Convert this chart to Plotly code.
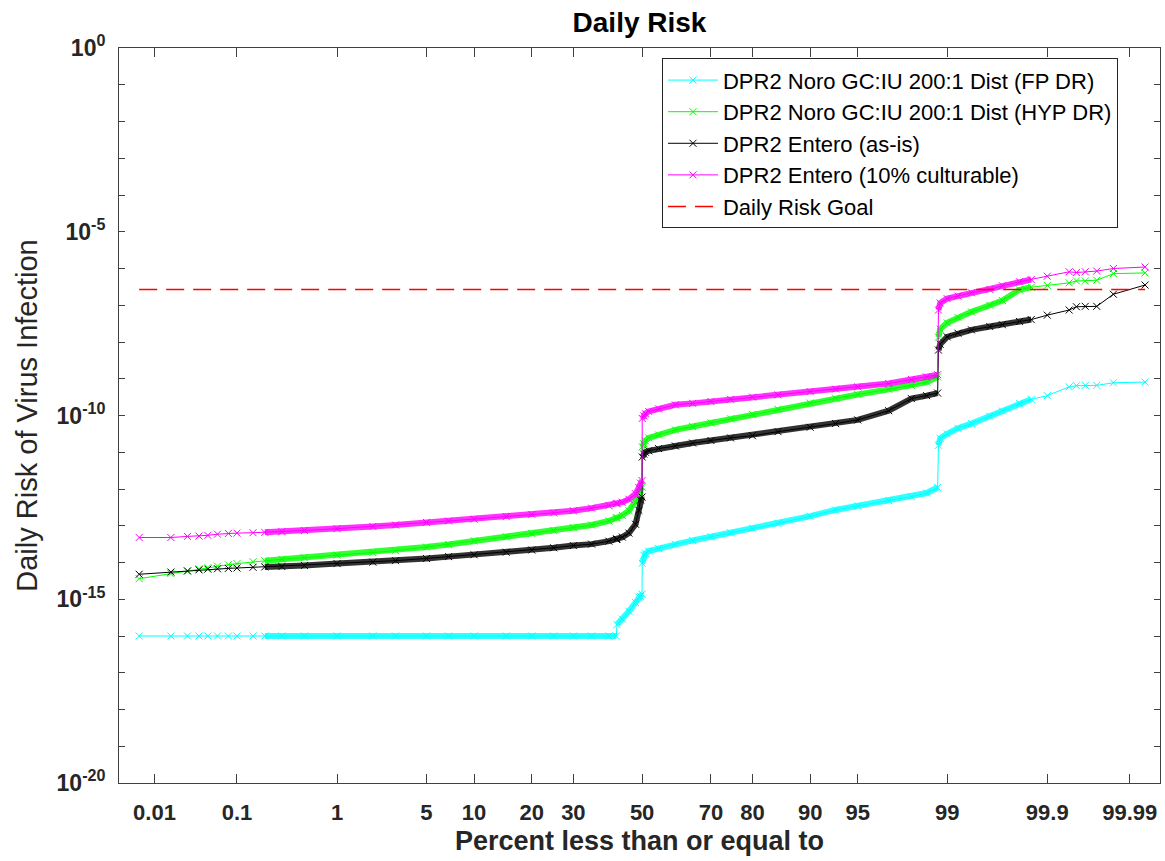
import plotly.graph_objects as go
from statistics import NormalDist

TITLE = "Daily Risk"
X_TITLE = "Percent less than or equal to"
Y_TITLE = "Daily Risk of Virus Infection"

# Cumulative percent (plotting position) of each read point
PERCENT = [0.00625, 0.01625, 0.02625, 0.03625, 0.04625, 0.06, 0.08, 0.1, 0.15, 0.2,
           0.3, 0.5, 1, 2, 3, 5, 7, 10, 15, 20,
           25, 30, 35, 40, 42.2, 42.4, 44, 46, 48, 49,
           49.5, 49.97, 50.03, 50.5, 51, 52, 55, 60, 65, 70,
           75, 80, 85, 90, 93, 95, 97, 98, 98.5, 98.79,
           98.81, 98.85, 99, 99.2, 99.4, 99.6, 99.7, 99.8, 99.85, 99.9,
           99.94375, 99.95375, 99.96375, 99.97375, 99.98375, 99.99375]

SERIES_NAMES = ["DPR2 Noro GC:IU 200:1 Dist (FP DR)",
                "DPR2 Noro GC:IU 200:1 Dist (HYP DR)",
                "DPR2 Entero (as-is)",
                "DPR2 Entero (10% culturable)"]

# log10 of daily risk
LOG10_RISK_NORO_FP = [-16.0, -16.0, -16.0, -16.0, -16.0, -16.0, -16.0, -16.0, -16.0, -16.0,
                      -16.0, -16.0, -16.0, -16.0, -16.0, -16.0, -16.0, -16.0, -16.0, -16.0,
                      -16.0, -16.0, -16.0, -16.0, -16.0, -15.69, -15.54, -15.33, -15.09, -14.94,
                      -14.92, -14.86, -14.02, -13.80, -13.76, -13.69, -13.62, -13.50, -13.40, -13.30,
                      -13.19, -13.07, -12.94, -12.74, -12.57, -12.46, -12.32, -12.21, -12.11, -11.96,
                      -10.81, -10.62, -10.50, -10.35, -10.22, -10.02, -9.88, -9.67, -9.56, -9.46,
                      -9.22, -9.19, -9.18, -9.18, -9.11, -9.09]

LOG10_RISK_NORO_HYP = [-14.44, -14.30, -14.23, -14.17, -14.14, -14.10, -14.06, -14.03, -13.98, -13.95,
                       -13.91, -13.87, -13.80, -13.73, -13.68, -13.58, -13.51, -13.41, -13.30, -13.21,
                       -13.13, -13.05, -12.98, -12.87, -12.79, -12.78, -12.72, -12.59, -12.37, -12.20,
                       -12.03, -11.95, -10.85, -10.77, -10.69, -10.61, -10.53, -10.39, -10.30, -10.20,
                       -10.09, -9.97, -9.83, -9.66, -9.53, -9.43, -9.29, -9.18, -9.09, -8.95,
                       -7.87, -7.65, -7.48, -7.33, -7.18, -7.00, -6.87, -6.58, -6.51, -6.46,
                       -6.39, -6.34, -6.34, -6.32, -6.14, -6.12]

LOG10_RISK_ENTERO_ASIS = [-14.32, -14.26, -14.23, -14.20, -14.18, -14.17, -14.16, -14.15, -14.13, -14.12,
                          -14.11, -14.08, -14.03, -13.99, -13.95, -13.89, -13.84, -13.79, -13.72, -13.66,
                          -13.60, -13.54, -13.50, -13.42, -13.37, -13.36, -13.31, -13.20, -12.96, -12.58,
                          -12.30, -12.22, -11.13, -11.05, -11.00, -10.96, -10.90, -10.83, -10.75, -10.68,
                          -10.61, -10.55, -10.44, -10.32, -10.22, -10.12, -9.87, -9.54, -9.46, -9.39,
                          -8.22, -8.06, -7.86, -7.76, -7.67, -7.58, -7.53, -7.44, -7.39, -7.27,
                          -7.13, -7.04, -7.03, -7.03, -6.70, -6.45]

LOG10_RISK_ENTERO_10PCT = [-13.32, -13.32, -13.29, -13.28, -13.26, -13.23, -13.21, -13.20, -13.19, -13.18,
                           -13.16, -13.13, -13.08, -13.02, -12.98, -12.91, -12.87, -12.82, -12.75, -12.69,
                           -12.65, -12.59, -12.52, -12.45, -12.40, -12.39, -12.36, -12.28, -12.13, -11.96,
                           -11.84, -11.77, -10.08, -10.01, -9.95, -9.89, -9.82, -9.71, -9.67, -9.62,
                           -9.56, -9.50, -9.44, -9.35, -9.28, -9.22, -9.13, -9.02, -8.95, -8.89,
                           -7.13, -6.94, -6.82, -6.75, -6.66, -6.57, -6.47, -6.36, -6.30, -6.21,
                           -6.09, -6.11, -6.09, -6.07, -6.00, -5.96]

RISK_GOAL_NAME = "Daily Risk Goal"
RISK_GOAL = 2.7e-7

X_TICK_PERCENTS = [0.01, 0.1, 1, 5, 10, 20, 30, 50, 70, 80, 90, 95, 99, 99.9, 99.99]
X_TICK_LABELS = ["0.01", "0.1", "1", "5", "10", "20", "30", "50", "70", "80", "90", "95", "99", "99.9", "99.99"]
Y_TICK_EXPONENTS = [-20, -19, -18, -17, -16, -15, -14, -13, -12, -11, -10,
                    -9, -8, -7, -6, -5, -4, -3, -2, -1, 0]
Y_LABELLED_EXPONENTS = [-20, -15, -10, -5, 0]

# ---- styling ----
COLORS = ["#00FFFF", "#00FF00", "#000000", "#FF00FF"]
BAND_BREAKS = [[42.3, 50.0, 98.8], [50.0, 98.8], [50.0, 98.8], [50.0, 98.8]]
BAND_RANGE = (0.2, 99.85)
FONT = "Arial, 'Liberation Sans', Helvetica, sans-serif"

nd = NormalDist()


def probit(p):
    return nd.inv_cdf(p / 100.0)


X_Z = [probit(p) for p in PERCENT]
series_logs = [LOG10_RISK_NORO_FP, LOG10_RISK_NORO_HYP, LOG10_RISK_ENTERO_ASIS, LOG10_RISK_ENTERO_10PCT]

fig = go.Figure()

for name, logs, color, breaks in zip(SERIES_NAMES, series_logs, COLORS, BAND_BREAKS):
    risk = [10 ** v for v in logs]
    # dense band (the thousands of overlapping markers in the middle of the distribution)
    bx, by = [], []
    prev_p = None
    for p, z, r in zip(PERCENT, X_Z, risk):
        if p < BAND_RANGE[0] or p > BAND_RANGE[1]:
            continue
        if prev_p is not None and any(prev_p < b < p for b in breaks):
            bx.append(None)
            by.append(None)
        bx.append(z)
        by.append(r)
        prev_p = p
    fig.add_trace(go.Scatter(x=bx, y=by, mode="lines", showlegend=False, hoverinfo="skip",
                             line=dict(color=color, width=6), opacity=0.8))
    fig.add_trace(go.Scatter(x=X_Z, y=risk, mode="lines+markers", name=name,
                             line=dict(color=color, width=1),
                             marker=dict(symbol="x-thin", size=7, color=color,
                                         line=dict(color=color, width=1))))

fig.add_trace(go.Scatter(x=[X_Z[0], X_Z[-1]], y=[RISK_GOAL, RISK_GOAL], mode="lines",
                         name=RISK_GOAL_NAME,
                         line=dict(color="#FF0000", width=1.5, dash="18px,9px")))

x_tickvals = [probit(p) for p in X_TICK_PERCENTS]
y_tickvals = [10 ** e for e in Y_TICK_EXPONENTS]
y_ticktext = [f"<b>10<sup>{e}</sup></b>" if e in Y_LABELLED_EXPONENTS else "" for e in Y_TICK_EXPONENTS]

fig.update_layout(
    width=1165, height=861,
    margin=dict(l=119, r=5, t=48, b=78),
    paper_bgcolor="white", plot_bgcolor="white",
    font=dict(family=FONT, color="black"),
    title=dict(text=f"<b>{TITLE}</b>", x=0.5, xref="paper", xanchor="center",
               y=1 - 22 / 861, yref="container", yanchor="middle",
               font=dict(size=28, color="black")),
    legend=dict(x=0.5216, y=0.986, xanchor="left", yanchor="top",
                bgcolor="white", bordercolor="#262626", borderwidth=1,
                font=dict(size=22, color="black"), tracegroupgap=0, itemwidth=50),
    showlegend=True,
)

fig.update_xaxes(
    range=[-3.99, 3.95], tickmode="array", tickvals=x_tickvals,
    ticktext=[f"<b>{t}</b>" for t in X_TICK_LABELS],
    ticks="inside", ticklen=9, tickcolor="#404040", tickwidth=1,
    showline=True, linecolor="#404040", linewidth=1, mirror="ticks",
    showgrid=False, zeroline=False,
    tickfont=dict(size=22, color="#262626"), ticklabelstandoff=10,
    title=dict(text=f"<b>{X_TITLE}</b>", font=dict(size=27, color="#262626"), standoff=6),
)

fig.update_yaxes(
    type="log", range=[-20, 0], tickmode="array", tickvals=y_tickvals, ticktext=y_ticktext,
    ticks="inside", ticklen=6, tickcolor="#404040", tickwidth=1,
    showline=True, linecolor="#404040", linewidth=1, mirror="ticks",
    showgrid=False, zeroline=False,
    tickfont=dict(size=23, color="#262626"), ticklabelstandoff=8,
    title=dict(text=Y_TITLE, font=dict(size=29, color="#262626"), standoff=10),
)

fig.write_html("out.html")
